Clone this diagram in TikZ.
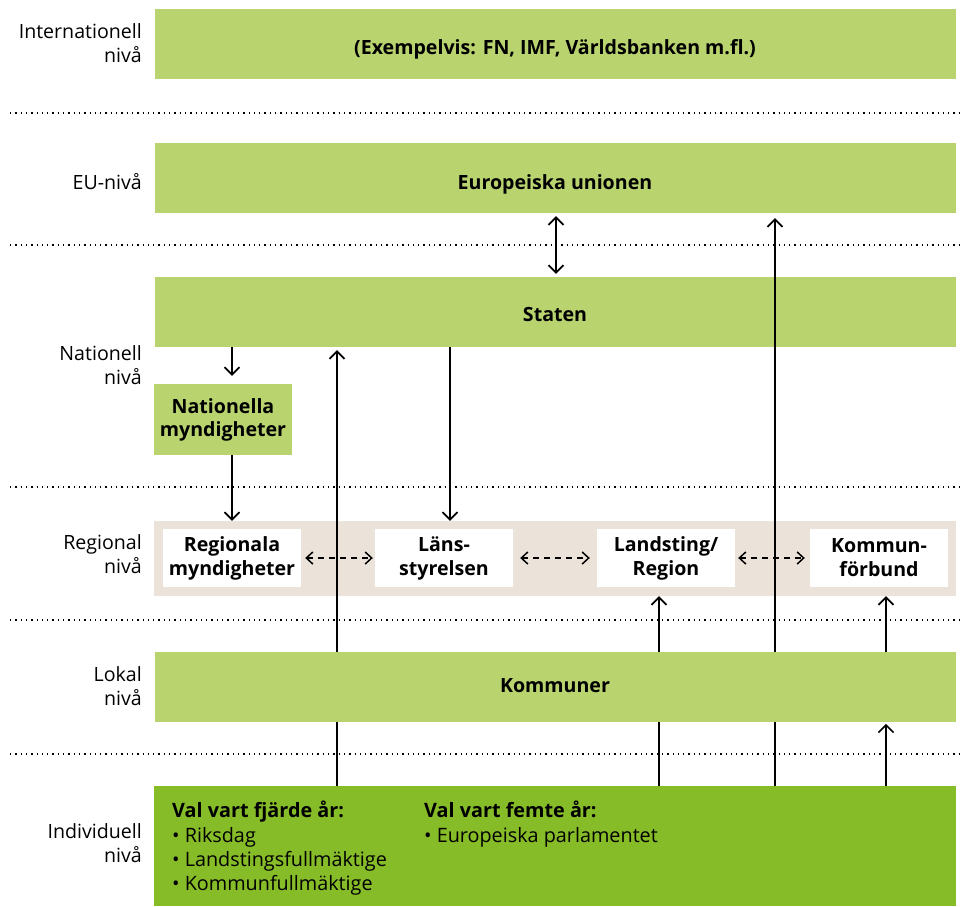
\documentclass[tikz,border=0pt]{standalone}
\usepackage{fontspec}
\setmainfont{Open Sans}
\usetikzlibrary{arrows.meta}
\definecolor{lgreen}{HTML}{B9D36F}
\definecolor{dgreen}{HTML}{86BC28}
\definecolor{beige}{HTML}{EBE3D9}
\tikzset{
  lvl/.style={fill=lgreen, minimum width=801pt, minimum height=70pt, inner sep=0pt, text depth=0pt, font=\bfseries\fontsize{19.6}{24}\selectfont},
  wbox/.style={fill=white, minimum width=138pt, minimum height=58pt, inner sep=0pt, align=center, font=\bfseries\fontsize{19.6}{24}\selectfont},
  lbl/.style={anchor=east, align=right, inner sep=0pt, font=\fontsize{19.6}{24}\selectfont},
  sep/.style={line width=1.3pt, dash pattern=on 1.3pt off 4pt},
  tip/.tip={Straight Barb[length=7.5pt,width=15pt,line width=1.7pt]},
  arr/.style={line width=1.7pt, -tip},
  darr/.style={line width=1.7pt, tip-tip},
  dtip/.tip={Straight Barb[length=6.5pt,width=12pt,line width=1.5pt]},
  dasharr/.style={line width=1.5pt, dash pattern=on 6pt off 5pt, dtip-dtip},
  txt/.style={anchor=north west, align=left, inner sep=0pt, font=\fontsize{19.8}{24.3}\selectfont}
}
\begin{document}
\begin{tikzpicture}[x=1pt,y=-1pt]
\useasboundingbox (0,0) rectangle (963,906);
% separators
\foreach \yy in {113,245,487,620,754} {
  \draw[sep] (10,\yy) -- (963,\yy);
}
% boxes
\node[lvl, text height=20pt] (int) at (555,44) {(Exempelvis: FN, IMF, Världsbanken m.fl.)};
\node[lvl, text height=22pt] (eu) at (555,178) {Europeiska unionen};
\node[lvl, text height=18pt] (staten) at (555,312) {Staten};
\node[fill=lgreen, minimum width=138pt, minimum height=71pt, inner sep=0pt, align=center, font=\bfseries\fontsize{19.6}{23}\selectfont] (natm) at (223,419.5) {Nationella\\myndigheter};
\node[fill=beige, minimum width=802pt, minimum height=75pt, inner sep=0pt] (band) at (555,558.5) {};
\node[wbox] (regm) at (232,558) {Regionala\\myndigheter};
\node[wbox] (lans) at (444,558) {Läns-\\styrelsen};
\node[wbox] (land) at (666,558) {Landsting/\\Region};
\node[wbox] (kfb) at (879,558) {Kommun-\\förbund};
\node[fill=dgreen, minimum width=802pt, minimum height=120pt, inner sep=0pt] (ind) at (555,846) {};
% labels
\node[lbl] (l1) at (142,43) {Internationell\\nivå};
\node[lbl] (l2) at (142,181.5) {EU-nivå};
\node[lbl] (l3) at (142,365.5) {Nationell\\nivå};
\node[lbl] (l4) at (142,554.5) {Regional\\nivå};
\node[lbl] (l5) at (142,686.5) {Lokal\\nivå};
\node[lbl] (l6) at (142,843.5) {Individuell\\nivå};
% x positions
\coordinate (x232) at (232,0);
\coordinate (x337) at (337,0);
\coordinate (x450) at (450,0);
\coordinate (x556) at (556,0);
\coordinate (x660) at (659,0);
\coordinate (x775) at (775,0);
\coordinate (x886) at (886,0);
% arrows
\draw[darr, shorten <=3pt, shorten >=3pt] (x556 |- eu.south) -- (x556 |- staten.north);
\draw[arr, shorten >=8pt] (x232 |- staten.south) -- (x232 |- natm.north);
\draw[arr] (x232 |- natm.south) -- (x232 |- band.north);
\draw[arr] (x450 |- staten.south) -- (x450 |- band.north);
\draw[arr, shorten >=3pt] (x337 |- ind.north) -- (x337 |- staten.south);
\draw[arr, shorten >=5pt] (x775 |- ind.north) -- (x775 |- eu.south);
\draw[arr] (x660 |- ind.north) -- (x660 |- band.south);
\draw[arr] (x886 |- ind.north) -- ++(0,-62);
\draw[dasharr] ([xshift=4pt]regm.east) -- ([xshift=-2pt]lans.west);
\draw[dasharr] ([xshift=7pt]lans.east) -- ([xshift=-7pt]land.west);
\draw[dasharr] ([xshift=3pt]land.east) -- ([xshift=-5pt]kfb.west);
% Kommuner on top
\node[lvl, text height=10pt] (kom) at (555,687) {Kommuner};
\draw[arr] (x886 |- kom.north) -- (x886 |- band.south);
% bottom texts
\node[txt] (t1) at (172,801) {\textbf{Val vart fjärde år:}\\• Riksdag\\• Landstingsfullmäktige\\• Kommunfullmäktige};
\node[txt] (t2) at (424,801) {\textbf{Val vart femte år:}\\• Europeiska parlamentet};
\end{tikzpicture}
\end{document}
